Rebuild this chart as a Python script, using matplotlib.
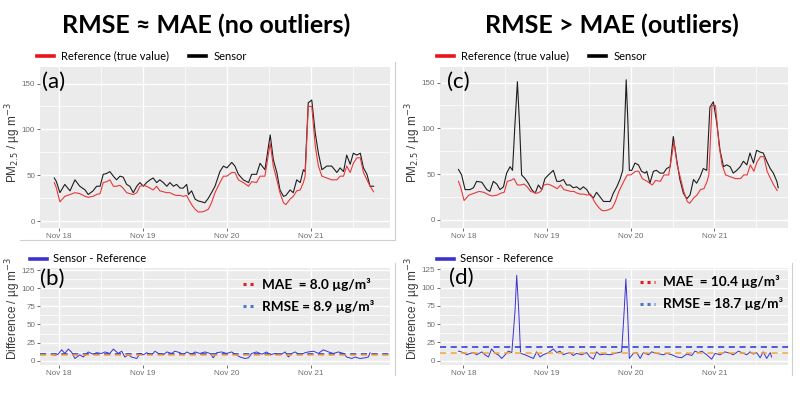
import matplotlib
matplotlib.use("Agg")
import matplotlib.pyplot as plt
from matplotlib.lines import Line2D
from matplotlib.ticker import MultipleLocator, FixedLocator

# hours since Nov 18 00:00
hours_a = [-1.4, -0.8, 0.2, 1.6, 3.1, 4.5, 5.9, 7.4, 8.3, 9.7,
           10.7, 11.7, 12.6, 13.6, 14.5, 15.5, 16.4, 17.4, 18.3, 19.3,
           20.2, 21.2, 22.2, 23.1, 24.1, 25.0, 26.0, 26.9, 27.9, 28.8,
           29.8, 30.8, 31.7, 32.7, 33.6, 34.6, 35.5, 36.5, 37.0, 37.9,
           38.9, 39.8, 40.8, 41.7, 42.7, 43.6, 44.6, 46.0, 47.0, 48.0,
           49.4, 50.3, 51.3, 52.7, 54.2, 55.1, 56.5, 57.5, 58.9, 60.4,
           61.3, 62.3, 63.2, 64.2, 64.9, 66.1, 67.0, 68.0, 69.0, 69.9,
           70.4, 71.3, 72.3, 73.3, 74.2, 75.2, 76.6, 78.0, 79.5, 80.4,
           81.4, 82.3, 83.3, 84.2, 85.2, 86.2, 87.1, 88.1, 89.0, 90.0]
reference = [42, 36, 21, 27, 29, 31, 30, 27, 26, 27,
             29, 30, 42, 43, 45, 38, 38, 39, 36, 31,
             30, 29, 31, 38, 39, 38, 36, 34, 38, 33,
             32, 31, 31, 29, 28, 28, 27, 28, 24, 18,
             13, 10, 10, 11, 13, 20, 31, 42, 49, 49,
             53, 53, 45, 42, 38, 43, 42, 49, 49, 85,
             60, 45, 31, 20, 18, 24, 27, 33, 34, 42,
             49, 125, 125, 82, 60, 49, 47, 45, 45, 49,
             49, 60, 53, 63, 69, 69, 53, 45, 38, 32]
sensor_a = [47, 43, 31, 40, 33, 45, 38, 34, 29, 33,
            38, 38, 51, 52, 54, 49, 45, 49, 48, 40,
            38, 31, 38, 42, 38, 42, 45, 47, 42, 45,
            42, 38, 42, 38, 40, 36, 36, 40, 29, 33,
            24, 22, 21, 20, 25, 31, 38, 54, 60, 58,
            64, 60, 51, 45, 42, 51, 51, 63, 56, 94,
            67, 53, 34, 27, 28, 34, 31, 45, 42, 56,
            54, 129, 132, 96, 74, 56, 60, 60, 53, 58,
            54, 72, 62, 74, 72, 74, 58, 51, 38, 38]

hours_c = [-1.4, -0.5, 0.5, 1.9, 2.9, 3.8, 5.3, 6.7, 7.6, 8.6,
           9.6, 10.5, 11.5, 12.4, 13.4, 14.1, 14.8, 15.5, 16.1, 16.7,
           17.7, 18.6, 19.6, 20.6, 21.5, 22.5, 23.4, 24.4, 25.8, 26.8,
           27.7, 28.7, 29.6, 30.6, 31.5, 32.5, 33.5, 34.4, 35.4, 36.3,
           37.3, 38.2, 39.2, 40.2, 41.1, 42.1, 43.0, 44.0, 44.9, 45.7,
           46.2, 46.7, 47.2, 47.6, 48.3, 49.2, 50.2, 51.1, 52.1, 52.6,
           53.5, 54.5, 55.4, 56.4, 57.4, 58.3, 59.3, 60.2, 61.2, 62.1,
           63.1, 64.1, 65.0, 66.0, 66.9, 67.9, 68.8, 69.8, 70.7, 71.7,
           72.7, 73.6, 74.6, 75.5, 76.5, 77.4, 78.4, 79.4, 80.3, 81.3,
           82.2, 83.2, 84.1, 85.1, 86.0, 87.0, 88.0, 88.9, 89.9, 90.3]
sensor_c = [55, 49, 33, 33, 35, 42, 41, 33, 31, 42,
            39, 33, 36, 51, 58, 54, 105, 151, 105, 49,
            45, 40, 33, 29, 38, 33, 45, 49, 54, 42,
            42, 44, 38, 38, 35, 36, 33, 36, 33, 27,
            24, 30, 25, 20, 20, 20, 29, 36, 44, 54,
            98, 153, 105, 54, 54, 62, 60, 53, 51, 53,
            40, 53, 54, 51, 51, 56, 58, 91, 65, 44,
            29, 23, 27, 44, 40, 47, 56, 54, 123, 129,
            105, 76, 58, 60, 58, 51, 54, 58, 64, 60,
            73, 62, 76, 74, 73, 64, 56, 51, 42, 35]

hours_b = [-1.4, -0.3, 0.7, 1.6, 2.6, 3.5, 4.5, 5.9, 6.9, 8.3,
           9.7, 10.7, 12.1, 13.1, 14.5, 15.5, 16.9, 17.9, 18.8, 19.8,
           20.7, 22.2, 23.1, 24.1, 25.0, 26.5, 27.4, 28.4, 29.8, 30.8,
           32.2, 33.1, 34.6, 35.5, 36.5, 37.9, 38.9, 40.3, 41.7, 43.2,
           44.1, 45.1, 46.5, 47.9, 49.4, 50.3, 51.8, 53.2, 54.2, 55.1,
           56.5, 58.0, 59.4, 60.4, 61.8, 63.2, 64.7, 65.6, 66.6, 67.5,
           69.0, 70.4, 71.3, 72.8, 74.2, 75.6, 77.1, 78.5, 79.9, 81.4,
           82.3, 83.8, 84.7, 86.1, 87.6, 88.5, 89.0]
diff_b = [7, 9, 15, 10, 16, 12, 3, 8, 5, 12,
          9, 11, 10, 12, 10, 16, 10, 13, 5, 8,
          5, 3, 10, 8, 11, 8, 13, 10, 8, 12,
          10, 13, 11, 8, 12, 9, 12, 10, 12, 10,
          4, 11, 12, 10, 12, 9, 5, 3, 4, 10,
          12, 9, 12, 8, 10, 8, 12, 5, 10, 12,
          8, 11, 12, 13, 10, 15, 12, 10, 12, 10,
          5, 3, 5, 3, 4, 5, 11]

hours_d = [-1.4, 0.0, 1.0, 1.9, 2.9, 3.8, 5.3, 6.2, 7.2, 8.1,
           9.1, 10.0, 11.0, 12.0, 12.9, 13.9, 14.8, 15.3, 15.9, 16.4,
           17.7, 19.1, 20.1, 21.0, 22.0, 22.9, 24.4, 25.8, 26.8, 27.7,
           28.7, 29.6, 30.6, 31.5, 32.5, 33.9, 35.4, 36.3, 37.3, 38.2,
           39.2, 40.6, 42.1, 43.5, 44.5, 45.4, 46.1, 46.6, 47.1, 47.6,
           48.8, 49.7, 50.7, 51.6, 53.1, 54.0, 55.4, 56.4, 57.4, 58.3,
           59.8, 61.2, 62.6, 64.1, 65.5, 66.4, 67.4, 68.4, 69.8, 71.2,
           72.2, 73.6, 75.0, 76.5, 77.4, 78.9, 79.8, 81.3, 82.2, 83.2,
           84.1, 85.1, 86.0, 87.0, 88.0, 88.4]
diff_d = [13, 11, 8, 10, 11, 8, 12, 8, 5, 16,
          10, 8, 3, 8, 13, 11, 67, 117, 67, 10,
          8, 5, 3, 12, 5, 8, 11, 16, 11, 13,
          8, 10, 11, 7, 10, 8, 11, 5, 2, 12,
          8, 9, 8, 10, 11, 12, 67, 112, 67, 3,
          10, 11, 3, 11, 8, 12, 10, 9, 8, 10,
          8, 5, 4, 9, 7, 13, 11, 13, 8, 2,
          10, 8, 12, 10, 8, 13, 11, 8, 12, 9,
          11, 4, 12, 3, 11, 5]

mae_b, rmse_b = 8.0, 8.9
mae_d, rmse_d = 10.4, 18.7

day_ticks = [0, 24, 48, 72]
day_labels = ["Nov 18", "Nov 19", "Nov 20", "Nov 21"]

RED = "#E8383B"
BLACK = "#1E1E1E"
BLUE = "#3C32D2"
ORANGE = "#F2A43A"
RMSE_BLUE = "#2532D8"
TITLE_FONT = ["Lato", "DejaVu Sans"]
AX_FONT = ["Liberation Sans", "DejaVu Sans"]

fig = plt.figure(figsize=(8, 3.94), dpi=100)


def px(x0, y0, x1, y1):
    return [x0 / 800, 1 - y1 / 394, (x1 - x0) / 800, (y1 - y0) / 394]


def gg_style(ax, xlim, ylim, ymajor):
    ax.set_facecolor("#EBEBEB")
    for s in ax.spines.values():
        s.set_visible(False)
    ax.set_xlim(*xlim)
    ax.set_ylim(*ylim)
    ax.xaxis.set_major_locator(FixedLocator(day_ticks))
    ax.xaxis.set_minor_locator(FixedLocator([12, 36, 60, 84]))
    ax.set_xticklabels(day_labels)
    ax.yaxis.set_major_locator(MultipleLocator(ymajor))
    ax.yaxis.set_minor_locator(MultipleLocator(ymajor / 2))
    ax.grid(which="major", color="white", lw=1.0)
    ax.grid(which="minor", color="white", lw=0.5)
    ax.set_axisbelow(True)
    ax.tick_params(which="major", length=2, width=0.6, color="#555555",
                   labelsize=5.8, labelcolor="#6E6E6E", pad=1.5)
    ax.tick_params(which="minor", length=0)
    for lab in ax.get_xticklabels() + ax.get_yticklabels():
        lab.set_family(AX_FONT)


ax_a = fig.add_axes(px(40, 67, 390, 228))
ax_b = fig.add_axes(px(40, 268, 390, 365))
ax_c = fig.add_axes(px(440, 67, 788, 228))
ax_d = fig.add_axes(px(440, 268, 788, 365))

gg_style(ax_a, (-5.5, 94.7), (-7.5, 168), 50)
gg_style(ax_b, (-5.5, 94.7), (-6, 128), 25)
gg_style(ax_c, (-6.7, 93.1), (-9, 167), 50)
gg_style(ax_d, (-6.7, 93.1), (-6, 127), 25)

for ax, hs, sens in [(ax_a, hours_a, sensor_a), (ax_c, hours_c, sensor_c)]:
    ax.plot(hs, sens, color=BLACK, lw=0.8)
    ax.plot(hours_a, reference, color=RED, lw=0.8)

for ax, hs, d, mae, rmse in [(ax_b, hours_b, diff_b, mae_b, rmse_b),
                             (ax_d, hours_d, diff_d, mae_d, rmse_d)]:
    ax.plot(hs, d, color=BLUE, lw=0.7)
    ax.axhline(rmse, color=RMSE_BLUE, lw=1.1, ls=(0, (4, 3)))
    ax.axhline(mae, color=ORANGE, lw=1.1, ls=(0, (4, 3)))

# panel letters
for ax, lab, x, y in [(ax_a, "(a)", 0.006, 0.905), (ax_b, "(b)", 0.0, 0.885),
                      (ax_c, "(c)", 0.02, 0.905), (ax_d, "(d)", 0.025, 0.895)]:
    ax.text(x, y, lab, transform=ax.transAxes, fontsize=16, family=TITLE_FONT,
            ha="left", va="center", color="black")

# MAE / RMSE annotations
for ax, mae, rmse, x0, x1, xt, y1, y2 in [
        (ax_b, mae_b, rmse_b, 0.58, 0.617, 0.634, 0.835, 0.608),
        (ax_d, mae_d, rmse_d, 0.575, 0.618, 0.641, 0.856, 0.629)]:
    ax.plot([x0, x1], [y1, y1], transform=ax.transAxes, color="#E02020",
            lw=2.2, ls=(0, (1, 1.3)))
    ax.plot([x0, x1], [y2, y2], transform=ax.transAxes, color="#4A78D0",
            lw=2.2, ls=(0, (1, 1.3)))
    ax.text(xt, y1, f"MAE  = {mae:.1f} µg/m³", transform=ax.transAxes,
            fontsize=9.8, weight="bold", family=TITLE_FONT, va="center")
    ax.text(xt, y2, f"RMSE = {rmse:.1f} µg/m³", transform=ax.transAxes,
            fontsize=9.8, weight="bold", family=TITLE_FONT, va="center")

# y labels
for y, lab in [(143, "PM$_{2.5}$ / µg m$^{-3}$"), (308, "Difference / µg m$^{-3}$")]:
    for x in (13, 413):
        fig.text(x / 800, 1 - y / 394, lab, rotation=90, ha="center", va="center",
                 fontsize=8.5, color="#3A3A3A", family=AX_FONT)

# titles
fig.text(206 / 800, 1 - 25 / 394, "RMSE ≈ MAE (no outliers)", ha="center",
         va="center", fontsize=18, weight="bold", family=TITLE_FONT)
fig.text(612 / 800, 1 - 25 / 394, "RMSE > MAE (outliers)", ha="center",
         va="center", fontsize=18, weight="bold", family=TITLE_FONT)

# legends
top_handles = [Line2D([], [], color="#E8161B", lw=2.6), Line2D([], [], color="black", lw=2.6)]
for x in (37, 437):
    fig.legend(top_handles, ["Reference (true value)", "Sensor"], loc="center left",
               bbox_to_anchor=(x / 800, 1 - 56 / 394), ncol=2, frameon=False,
               prop={"family": TITLE_FONT, "size": 8}, handlelength=1.5,
               handletextpad=0.7, columnspacing=1.8, borderpad=0, borderaxespad=0)
diff_handle = [Line2D([], [], color="#3C32D2", lw=2.6)]
for x in (30, 437):
    fig.legend(diff_handle, ["Sensor - Reference"], loc="center left",
               bbox_to_anchor=(x / 800, 1 - 259 / 394), frameon=False,
               prop={"family": TITLE_FONT, "size": 8}, handlelength=1.5,
               handletextpad=0.6, borderpad=0, borderaxespad=0)

# thin frame lines between the pictures
for xs, ys in [([20, 395], [240, 240]), ([395, 395], [62, 240]),
               ([395, 395], [263, 375]), ([792, 792], [263, 375])]:
    fig.add_artist(Line2D([x / 800 for x in xs], [1 - y / 394 for y in ys],
                          color="#CFCFCF", lw=0.8))

fig.savefig("out.png", dpi=100)
